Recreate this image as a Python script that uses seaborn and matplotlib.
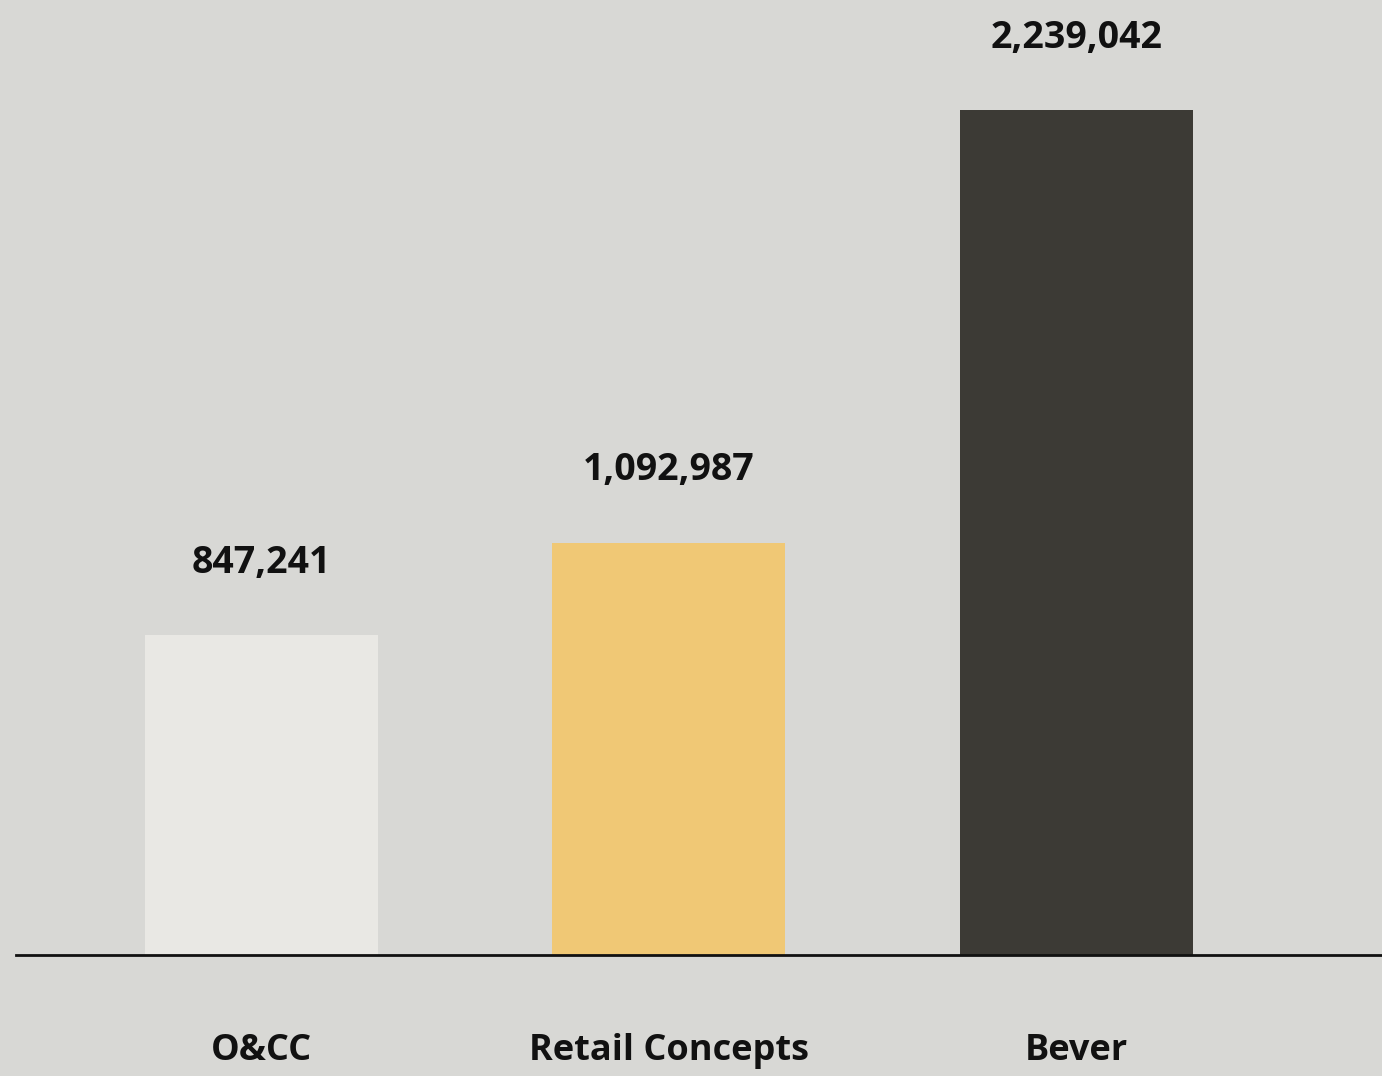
import matplotlib
matplotlib.use("Agg")
import matplotlib.pyplot as plt
import seaborn as sns
import pandas as pd

# Data
companies = ["O&CC", "Retail Concepts", "Bever"]
revenue = [847241, 1092987, 2239042]
bar_colors = ["#e9e8e4", "#f0c875", "#3c3a35"]

df = pd.DataFrame({"company": companies, "revenue": revenue})

sns.set_theme(style="white")
plt.rcParams["font.family"] = ["Open Sans", "DejaVu Sans"]

bg = "#d8d8d5"
fig = plt.figure(figsize=(13.82, 10.76), dpi=100, facecolor=bg)
ax = fig.add_axes([16 / 1382, 121 / 1076, 1366 / 1382, 955 / 1076])
ax.set_facecolor(bg)

sns.barplot(data=df, x="company", y="revenue", hue="company",
            palette=bar_colors, width=0.572, legend=False, ax=ax,
            saturation=1, linewidth=0, edgecolor="none")

ax.set_xlim(-0.6025, 2.75)
ax.set_ylim(0, max(revenue) * 955 / 845)

# value labels above each bar
for patch, val in zip(ax.patches, revenue):
    ax.annotate(f"{val:,}", (patch.get_x() + patch.get_width() / 2, val),
                xytext=(0, 52), textcoords="offset points",
                ha="center", va="center", fontsize=27, fontweight="bold",
                color="#111111")

ax.set_xlabel("")
ax.set_ylabel("")
ax.set_yticks([])
ax.tick_params(axis="x", length=0, pad=56, labelsize=26, labelcolor="#111111")
for lbl in ax.get_xticklabels():
    lbl.set_fontweight("bold")

for side in ["top", "right", "left"]:
    ax.spines[side].set_visible(False)
ax.spines["bottom"].set_color("#111111")
ax.spines["bottom"].set_linewidth(2)

fig.savefig("out.png", dpi=100, facecolor=bg)
